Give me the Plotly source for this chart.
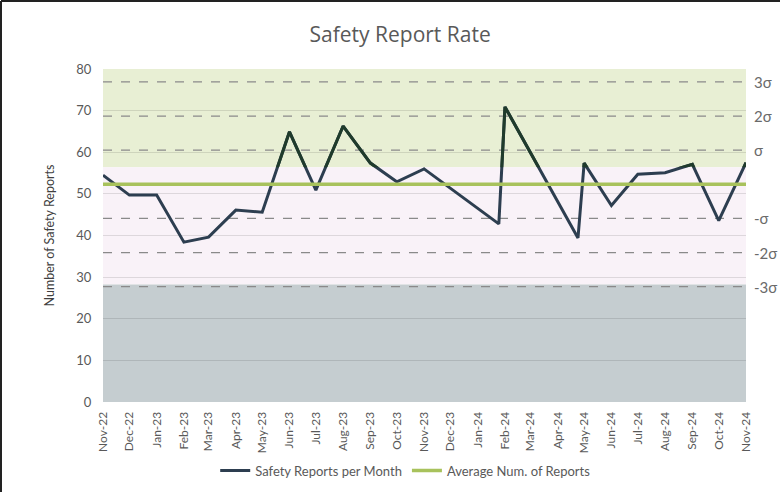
import plotly.graph_objects as go

# ---- data ----
report_dates = ["2022-11-01", "2022-12-01", "2023-01-01", "2023-02-01", "2023-03-01",
                "2023-04-01", "2023-05-01", "2023-06-01", "2023-07-01", "2023-08-01",
                "2023-09-01", "2023-10-01", "2023-11-01", "2024-01-25", "2024-02-01",
                "2024-03-01", "2024-04-24", "2024-05-01", "2024-06-01", "2024-07-01",
                "2024-08-01", "2024-09-01", "2024-10-01", "2024-11-01"]
reports = [54.5, 49.7, 49.7, 38.4, 39.6, 46.1, 45.6, 64.9, 50.9, 66.3,
           57.4, 52.9, 56.0, 42.8, 70.9, 60.0, 39.4, 57.4, 47.2, 54.7,
           55.1, 57.1, 43.6, 57.5]

tick_dates = ["2022-11-01", "2022-12-01", "2023-01-01", "2023-02-01", "2023-03-01",
              "2023-04-01", "2023-05-01", "2023-06-01", "2023-07-01", "2023-08-01",
              "2023-09-01", "2023-10-01", "2023-11-01", "2023-12-01", "2024-01-01",
              "2024-02-01", "2024-03-01", "2024-04-01", "2024-05-01", "2024-06-01",
              "2024-07-01", "2024-08-01", "2024-09-01", "2024-10-01", "2024-11-01"]
tick_labels = ["Nov-22", "Dec-22", "Jan-23", "Feb-23", "Mar-23", "Apr-23", "May-23",
               "Jun-23", "Jul-23", "Aug-23", "Sep-23", "Oct-23", "Nov-23", "Dec-23",
               "Jan-24", "Feb-24", "Mar-24", "Apr-24", "May-24", "Jun-24", "Jul-24",
               "Aug-24", "Sep-24", "Oct-24", "Nov-24"]

mean_value = 52.3
sigma_value = 8.2
sigma_multipliers = [3, 2, 1, -1, -2, -3]
sigma_labels = ["3σ", "2σ", "σ", "-σ", "-2σ", "-3σ"]

upper_band_min = 56.4
lower_band_max = 28.2
y_max = 80

# ---- styles ----
navy = "#2d3e50"
dark_green = "#1f3b2b"
avg_green = "#a8c25c"
band_green = "#e8efd4"
band_pink = "#f9f2f8"
band_gray = "#c5cdd0"
text_gray = "#595959"

fig = go.Figure()

x_span = [report_dates[0], report_dates[-1]]

# sigma dashed lines
for m in sigma_multipliers:
    lvl = mean_value + m * sigma_value
    fig.add_trace(go.Scatter(x=x_span, y=[lvl, lvl], mode="lines",
                             line=dict(color="#8a8a8a", width=1.3, dash="dash"),
                             showlegend=False, hoverinfo="skip"))

# main line
fig.add_trace(go.Scatter(x=report_dates, y=reports, mode="lines",
                         name="Safety Reports per Month",
                         line=dict(color=navy, width=3)))

# average line
fig.add_trace(go.Scatter(x=x_span, y=[mean_value, mean_value], mode="lines",
                         name="Average Num. of Reports",
                         line=dict(color=avg_green, width=3.5)))

# same line redrawn in the upper band (clipped by a second subplot) to mimic tint
fig.add_trace(go.Scatter(x=report_dates, y=reports, mode="lines",
                         xaxis="x2", yaxis="y2", showlegend=False, hoverinfo="skip",
                         line=dict(color=dark_green, width=3)))

W, H = 780, 492
ML, MR, MT, MB = 103, 34, 69, 90
PW, PH = W - ML - MR, H - MT - MB

# bands
shapes = [
    dict(type="rect", xref="paper", yref="y", x0=0, x1=1, y0=upper_band_min, y1=y_max,
         fillcolor=band_green, line=dict(width=0), layer="below"),
    dict(type="rect", xref="paper", yref="y", x0=0, x1=1, y0=lower_band_max, y1=upper_band_min,
         fillcolor=band_pink, line=dict(width=0), layer="below"),
    dict(type="rect", xref="paper", yref="y", x0=0, x1=1, y0=0, y1=lower_band_max,
         fillcolor=band_gray, line=dict(width=0), layer="below"),
    # outer chart frame (left and top edges visible)
    dict(type="line", xref="paper", yref="paper", x0=(1 - ML) / PW, x1=(1 - ML) / PW,
         y0=(MB - H) / PH, y1=(H - MB - 1) / PH, line=dict(color="#222222", width=2)),
    dict(type="line", xref="paper", yref="paper", x0=(1 - ML) / PW, x1=(W - ML) / PW,
         y0=(H - MB - 1) / PH, y1=(H - MB - 1) / PH, line=dict(color="#222222", width=2)),
]

annotations = []
for m, lab in zip(sigma_multipliers, sigma_labels):
    annotations.append(dict(x=1.01, xref="paper", y=mean_value + m * sigma_value, yref="y",
                            text=lab, showarrow=False, xanchor="left", yanchor="middle",
                            font=dict(family="Lato, Open Sans, sans-serif", size=15, color="#6a6a6a")))

fig.update_layout(
    width=W, height=H,
    margin=dict(l=ML, r=MR, t=MT, b=MB, autoexpand=False),
    paper_bgcolor="white",
    plot_bgcolor="rgba(0,0,0,0)",
    title=dict(text="Safety Report Rate", x=0.513, xref="container", y=1 - 35 / H, yref="container",
               xanchor="center", yanchor="middle",
               font=dict(family="Open Sans, sans-serif", size=21, color=text_gray)),
    xaxis=dict(type="date", range=x_span, tickvals=tick_dates, ticktext=tick_labels,
               tickangle=-90, showgrid=False, zeroline=False, showline=False, automargin=False,
               ticks="outside", ticklen=4, tickcolor="rgba(0,0,0,0)",
               tickfont=dict(family="Lato, sans-serif", size=12, color=text_gray)),
    yaxis=dict(range=[0, y_max], dtick=10, showgrid=True, gridcolor="rgba(0,0,0,0.11)",
               gridwidth=1.2, zeroline=False, showline=False, automargin=False,
               ticks="outside", ticklen=8, tickcolor="rgba(0,0,0,0)",
               tickfont=dict(family="Lato, sans-serif", size=13, color=text_gray),
               title=dict(text="Number of Safety Reports", standoff=18,
                          font=dict(family="Lato, sans-serif", size=12.5, color="#404040"))),
    xaxis2=dict(type="date", range=x_span, domain=[0, 1], anchor="y2", visible=False),
    yaxis2=dict(range=[upper_band_min, y_max], domain=[upper_band_min / y_max, 1],
                anchor="x2", visible=False),
    legend=dict(orientation="h", x=0.47, xanchor="center", y=-0.206, yanchor="middle",
                font=dict(family="Lato, sans-serif", size=13, color=text_gray),
                itemwidth=30, bgcolor="rgba(0,0,0,0)"),
    shapes=shapes,
    annotations=annotations,
    showlegend=True,
)

fig.write_html("out.html", config={"displayModeBar": False},
               post_script="document.body.style.margin='0';document.body.style.overflow='hidden';")
